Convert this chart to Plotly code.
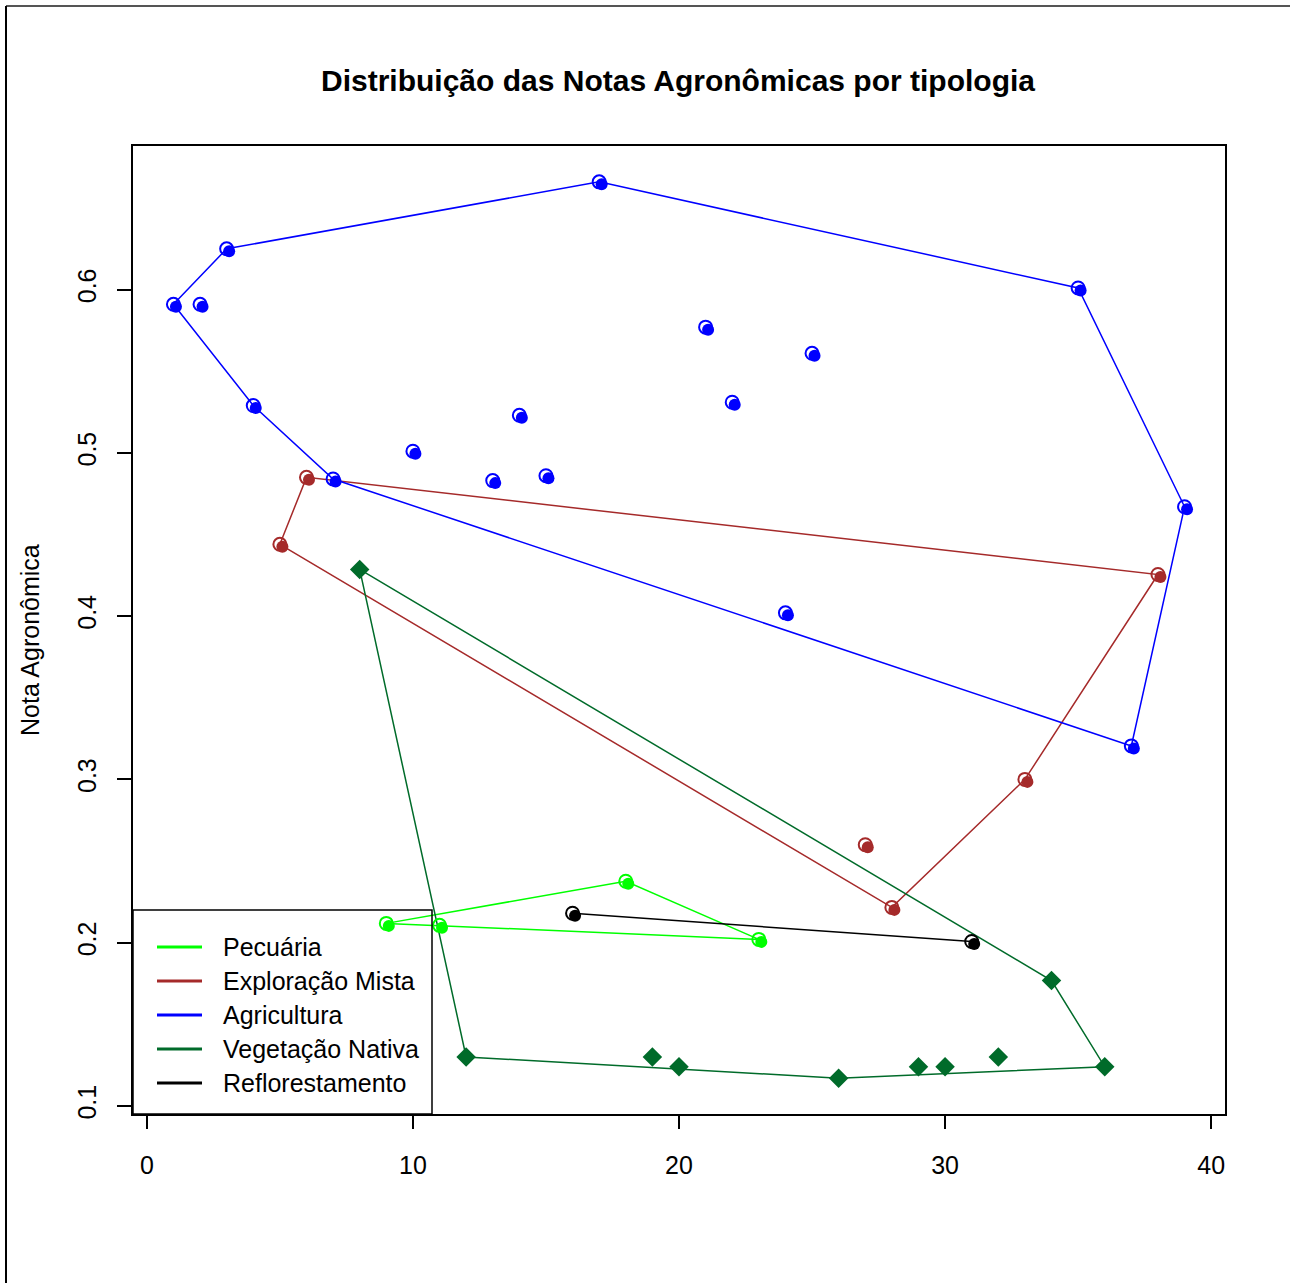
import plotly.graph_objects as go

# ---------------- data ----------------
groups = ["Pecuária", "Exploração Mista", "Agricultura", "Vegetação Nativa", "Reflorestamento"]
colors = {"Pecuária": "#00FF00", "Exploração Mista": "#A52A2A", "Agricultura": "#0000FF",
          "Vegetação Nativa": "#006B2A", "Reflorestamento": "#000000"}

pec_x = [9, 11, 18, 23]
pec_y = [0.2118, 0.2106, 0.2376, 0.2020]

mis_x = [5, 6, 27, 28, 33, 38]
mis_y = [0.444, 0.485, 0.260, 0.2216, 0.300, 0.4255]

agr_x = [1, 2, 3, 4, 7, 10, 13, 14, 15, 17, 21, 22, 24, 25, 35, 37, 39]
agr_y = [0.591, 0.591, 0.625, 0.529, 0.484, 0.501, 0.483, 0.523, 0.486, 0.666,
         0.577, 0.531, 0.402, 0.561, 0.601, 0.3205, 0.467]

veg_x = [8, 12, 19, 20, 26, 29, 30, 32, 34, 36]
veg_y = [0.4286, 0.130, 0.130, 0.124, 0.117, 0.124, 0.124, 0.130, 0.1768, 0.124]

ref_x = [16, 31]
ref_y = [0.218, 0.2007]

series = {"Pecuária": (pec_x, pec_y), "Exploração Mista": (mis_x, mis_y),
          "Agricultura": (agr_x, agr_y), "Vegetação Nativa": (veg_x, veg_y),
          "Reflorestamento": (ref_x, ref_y)}

x_ticks = [0, 10, 20, 30, 40]
y_ticks = [0.1, 0.2, 0.3, 0.4, 0.5, 0.6]

# ---------------- layout geometry ----------------
W, H = 1290, 1283
ML, MR, MT, MB = 133, 65, 146, 169
PW, PH = W - ML - MR, H - MT - MB

allx = [v for g in groups for v in series[g][0]]
ally = [v for g in groups for v in series[g][1]]
dx = (max(allx) - min(allx)) * 0.04
dy = (max(ally) - min(ally)) * 0.04
xr = [min(allx) - dx, max(allx) + dx]
yr = [min(ally) - dy, max(ally) + dy]

# pixel offset of the filled dot relative to ring
offx = 2.5 * (xr[1] - xr[0]) / PW
offy = 2.5 * (yr[1] - yr[0]) / PH


def px2x(p):
    return (p - ML) / PW


def px2y(p):
    return (H - MB - p) / PH


def hull(px, py):
    pts = sorted(set(zip(px, py)))
    if len(pts) <= 2:
        return pts
    def cross(o, a, b):
        return (a[0] - o[0]) * (b[1] - o[1]) - (a[1] - o[1]) * (b[0] - o[0])
    lower, upper = [], []
    for p in pts:
        while len(lower) >= 2 and cross(lower[-2], lower[-1], p) <= 0:
            lower.pop()
        lower.append(p)
    for p in reversed(pts):
        while len(upper) >= 2 and cross(upper[-2], upper[-1], p) <= 0:
            upper.pop()
        upper.append(p)
    return lower[:-1] + upper[:-1]


fig = go.Figure()

# hull lines
for g in groups:
    px, py = series[g]
    h = hull(px, py)
    hx = [p[0] for p in h]
    hy = [p[1] for p in h]
    if len(h) > 2:
        hx.append(hx[0]); hy.append(hy[0])
    fig.add_trace(go.Scatter(x=hx, y=hy, mode="lines", name=g, showlegend=False,
                             line=dict(color=colors[g], width=1.5),
                             hoverinfo="skip"))

# points
for g in groups:
    px, py = series[g]
    c = colors[g]
    if g == "Vegetação Nativa":
        fig.add_trace(go.Scatter(x=px, y=py, mode="markers", showlegend=False, name=g,
                                 marker=dict(symbol="diamond", size=15, color=c,
                                             line=dict(width=0))))
    else:
        fig.add_trace(go.Scatter(x=px, y=py, mode="markers", showlegend=False, name=g,
                                 marker=dict(symbol="circle-open", size=13, color=c,
                                             line=dict(width=2, color=c))))
        fig.add_trace(go.Scatter(x=[v + offx for v in px], y=[v - offy for v in py],
                                 mode="markers", showlegend=False, name=g,
                                 marker=dict(symbol="circle", size=12, color=c,
                                             line=dict(width=0))))

font = "Liberation Sans, Arial, sans-serif"

# ---------------- legend (R style box) ----------------
shapes = [
    dict(type="rect", xref="paper", yref="paper",
         x0=px2x(133), x1=px2x(432), y0=px2y(1114), y1=px2y(910),
         line=dict(color="black", width=1.5), fillcolor="rgba(0,0,0,0)"),
]
annotations = []
leg_rows = [947, 981, 1015, 1049, 1083]
for g, yy in zip(groups, leg_rows):
    shapes.append(dict(type="line", xref="paper", yref="paper",
                       x0=px2x(157), x1=px2x(202), y0=px2y(yy), y1=px2y(yy),
                       line=dict(color=colors[g], width=3)))
    annotations.append(dict(text=g, xref="paper", yref="paper",
                            x=px2x(221), y=px2y(yy), xanchor="left", yanchor="middle",
                            showarrow=False, font=dict(size=25, family=font)))

annotations += [
    dict(text="<b>Distribuição das Notas Agronômicas por tipologia</b>",
         xref="paper", yref="paper", x=px2x(678), y=px2y(80),
         xanchor="center", yanchor="middle", showarrow=False,
         font=dict(size=30, family=font)),
    dict(text="Nota Agronômica", xref="paper", yref="paper",
         x=px2x(30), y=px2y(640), textangle=-90,
         xanchor="center", yanchor="middle", showarrow=False,
         font=dict(size=25, family=font)),
]

shapes += [
    dict(type="line", xref="paper", yref="paper",
         x0=px2x(6), x1=px2x(W), y0=px2y(6), y1=px2y(6),
         line=dict(color="#555555", width=2)),
    dict(type="line", xref="paper", yref="paper",
         x0=px2x(6), x1=px2x(6), y0=px2y(6), y1=px2y(H),
         line=dict(color="black", width=2)),
]

fig.update_layout(
    width=W, height=H,
    margin=dict(l=ML, r=MR, t=MT, b=MB),
    paper_bgcolor="white", plot_bgcolor="white",
    font=dict(family=font, color="black"),
    showlegend=False,
    xaxis=dict(range=xr, tickvals=x_ticks, ticktext=[str(v) for v in x_ticks],
               showgrid=False, zeroline=False, showline=True, mirror=True,
               linecolor="black", linewidth=1.5, ticks="outside", ticklen=13,
               tickwidth=1.5, tickcolor="black", tickfont=dict(size=25),
               ticklabelstandoff=15),
    yaxis=dict(range=yr, tickvals=y_ticks, ticktext=[str(v) for v in y_ticks],
               showgrid=False, zeroline=False, showline=True, mirror=True,
               linecolor="black", linewidth=1.5, ticks="outside", ticklen=14,
               tickwidth=1.5, tickcolor="black", tickfont=dict(size=25),
               tickangle=-90, ticklabelstandoff=11),
    annotations=annotations,
    shapes=shapes,
)

fig.write_html("out.html", config={"displayModeBar": False},
               post_script="document.body.style.margin='0px';document.body.style.padding='0px';")
